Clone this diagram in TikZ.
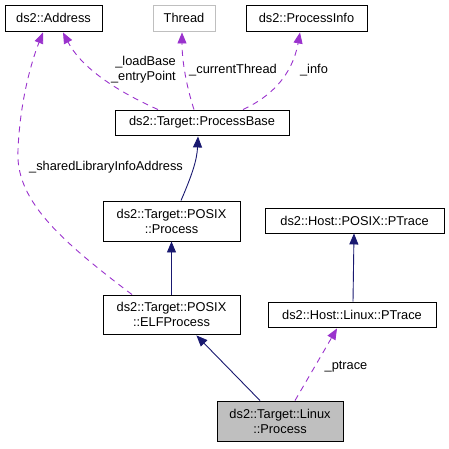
\documentclass[tikz,border=0pt]{standalone}
\usepackage{fontspec}
\setmainfont{Liberation Sans}
\usetikzlibrary{arrows.meta,calc}
\definecolor{navy}{HTML}{191970}
\definecolor{purp}{HTML}{9A32CD}
\definecolor{lgray}{HTML}{BFBFBF}
\tikzset{
  box/.style={draw=black, fill=white, inner sep=0pt, align=center, font=\fontsize{12.8}{15}\selectfont},
  inh/.style={draw=navy, line width=0.9pt, -{Triangle[length=11pt,width=9pt,fill=navy]}},
  use/.style={draw=purp, line width=0.9pt, dash pattern=on 6pt off 5pt, -{Triangle[length=11pt,width=9pt,fill=purp]}},
  lbl/.style={font=\fontsize{12.8}{15}\selectfont, inner sep=0pt, align=right}
}
\begin{document}
\begin{tikzpicture}[x=1pt,y=-1pt]
\useasboundingbox (0,0) rectangle (449,448);
\node[box, line width=0.9pt, minimum width=97pt, minimum height=26pt] (addr) at (53.5,18) {ds2::Address};
\node[box, line width=0.9pt, draw=lgray, minimum width=62pt, minimum height=26pt] (thread) at (184,18) {Thread};
\node[box, line width=0.9pt, minimum width=121pt, minimum height=26pt] (pinfo) at (306.5,18) {ds2::ProcessInfo};
\node[box, line width=0.9pt, minimum width=174pt, minimum height=25pt] (pb) at (202,122.5) {ds2::Target::ProcessBase};
\node[box, line width=0.9pt, minimum width=137pt, minimum height=40pt] (pp) at (171.5,221) {ds2::Target::POSIX\\::Process};
\node[box, line width=0.9pt, minimum width=179pt, minimum height=25pt] (hpp) at (354.5,220.5) {ds2::Host::POSIX::PTrace};
\node[box, line width=0.9pt, minimum width=137pt, minimum height=39pt] (elf) at (171.5,314.5) {ds2::Target::POSIX\\::ELFProcess};
\node[box, line width=0.9pt, minimum width=168pt, minimum height=25pt] (hlp) at (352,314.5) {ds2::Host::Linux::PTrace};
\node[box, line width=0.9pt, fill=lgray, minimum width=126pt, minimum height=40pt] (lp) at (280,421) {ds2::Target::Linux\\::Process};

% usage edges
\draw[use] ($(pb.north)+(-44,0)$) .. controls (110,88) and (80,65) .. ($(addr.south)+(9.5,1)$);
\draw[use] ($(pb.north)+(-8,0)$) .. controls (186,85) and (182,60) .. ($(thread.south)+(-2,1)$);
\draw[use] ($(pb.north)+(41,0)$) .. controls (285,90) and (295,60) .. ($(pinfo.south)+(-6.5,1)$);
\draw[use] ($(elf.north)+(-39.5,0)$) .. controls (60,240) and (15,200) .. (18,150) .. controls (20,100) and (32,60) .. ($(addr.south)+(-10.5,1)$);
\draw[use] ($(lp.north)+(15,0)$) -- ($(hlp.south)+(-15,1)$);

% inheritance edges
\draw[inh] ($(pp.north)+(9.5,0)$) .. controls (192,175) and (197,160) .. ($(pb.south)+(-4,1)$);
\draw[inh] (elf.north) -- (pp.south);
\draw[inh] ($(lp.north)+(-20,0)$) -- ($(elf.south east)+(-44,1)$);
\draw[inh] ($(hlp.north)+(1,0)$) -- ($(hpp.south)+(-0.5,0)$);

% labels
\node[lbl, anchor=east] (l1) at (176,70) {\_loadBase\\\_entryPoint};
\node[lbl] (l2) at (233,70) {\_currentThread};
\node[lbl] (l3) at (314,70) {\_info};
\node[lbl] (l4) at (106,167) {\_sharedLibraryInfoAddress};
\node[lbl] (l5) at (346,367) {\_ptrace};
\end{tikzpicture}
\end{document}
